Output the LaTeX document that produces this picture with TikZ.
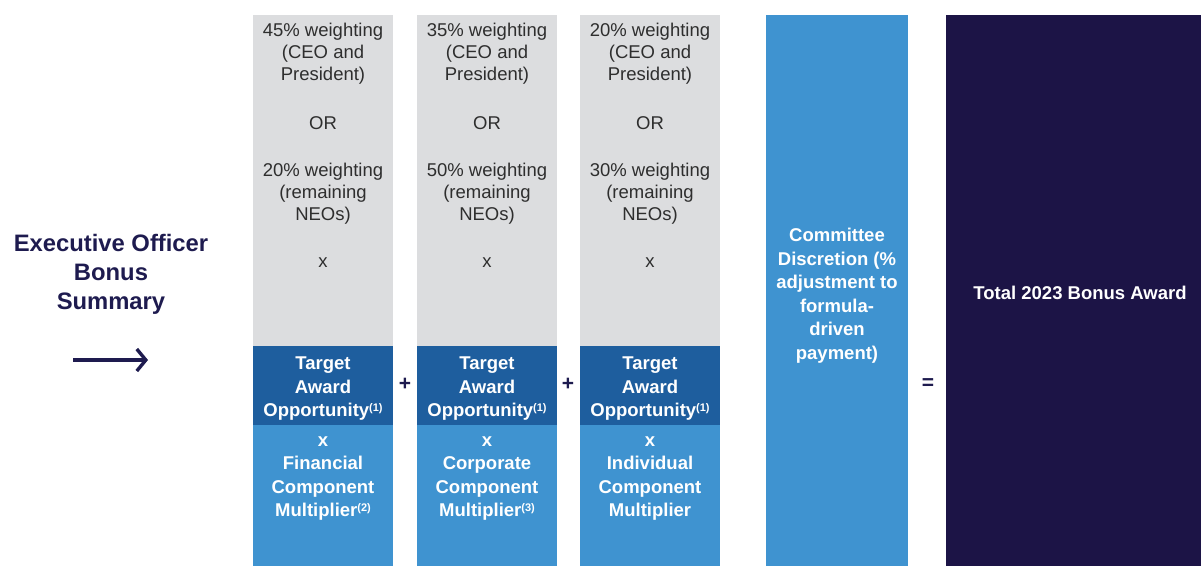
\documentclass[tikz,border=0pt]{standalone}
\usepackage{fontspec}
\setmainfont{Liberation Sans}
\usetikzlibrary{arrows.meta}
\definecolor{graybg}{HTML}{DCDDDF}
\definecolor{darkblue}{HTML}{1E5E9E}
\definecolor{lightblue}{HTML}{3F93D0}
\definecolor{navy}{HTML}{1C1446}
\definecolor{graytxt}{HTML}{2E2E2E}
\definecolor{titlenavy}{HTML}{1E1B4F}
\newcommand{\supmark}[1]{\raisebox{0.55ex}{\fontsize{11}{11}\selectfont(#1)}}
\begin{document}
\begin{tikzpicture}[x=1pt,y=-1pt,
  panel/.style={draw=none,inner sep=0pt,outer sep=0pt,anchor=north west},
  graytext/.style={align=center,text=graytxt,inner sep=0pt,font=\fontsize{18.5}{22}\selectfont},
  whitetext/.style={align=center,text=white,inner sep=0pt,font=\bfseries\fontsize{18.5}{23.5}\selectfont},
  optext/.style={text=titlenavy,inner sep=0pt,font=\bfseries\fontsize{21}{21}\selectfont}]
\useasboundingbox (0,0) rectangle (1201,566);
% panels
\foreach \n/\x in {1/253,2/417,3/580}{
  \node[panel,fill=graybg,minimum width=140pt,minimum height=331pt] (g\n) at (\x,15) {};
  \node[panel,fill=darkblue,minimum width=140pt,minimum height=79pt] (d\n) at (\x,346) {};
  \node[panel,fill=lightblue,minimum width=140pt,minimum height=141pt] (l\n) at (\x,425) {};
}
\node[panel,fill=lightblue,minimum width=142pt,minimum height=551pt] (cd) at (766,15) {};
\node[panel,fill=navy,minimum width=255pt,minimum height=551pt] (tot) at (946,15) {};
% gray texts
\node[graytext] (g1a) at (323,54) {45\% weighting\\(CEO and\\President)};
\node[graytext] (g2a) at (487,54) {35\% weighting\\(CEO and\\President)};
\node[graytext] (g3a) at (650,54) {20\% weighting\\(CEO and\\President)};
\foreach \n/\x in {1/323,2/487,3/650}{
  \node[graytext] (g\n o) at (\x,123) {OR};
  \node[graytext] (g\n x) at (\x,263) {x};
}
\node[graytext] (g1b) at (323,194) {20\% weighting\\(remaining\\NEOs)};
\node[graytext] (g2b) at (487,194) {50\% weighting\\(remaining\\NEOs)};
\node[graytext] (g3b) at (650,194) {30\% weighting\\(remaining\\NEOs)};
% dark blue texts
\foreach \n/\x in {1/323,2/487,3/650}{
  \node[whitetext] (d\n t) at (\x,389) {Target\\Award\\Opportunity\supmark{1}};
}
\node[whitetext] (l1t) at (323,478.5) {x\\Financial\\Component\\Multiplier\supmark{2}};
\node[whitetext] (l2t) at (487,478.5) {x\\Corporate\\Component\\Multiplier\supmark{3}};
\node[whitetext] (l3t) at (650,478.5) {x\\Individual\\Component\\Multiplier};
% committee and total
\node[whitetext] (cdt) at (837,295.5) {Committee\\Discretion (\%\\adjustment to\\formula-\\driven\\payment)};
\node[whitetext] (tott) at (1080,293) {Total 2023 Bonus Award};
% operators
\node[optext] (p1) at (405,384) {+};
\node[optext] (p2) at (568,384) {+};
\node[optext] (eq) at (928,384) {=};
% title and arrow
\node[align=center,text=titlenavy,inner sep=0pt,font=\bfseries\fontsize{23.8}{29}\selectfont] (title) at (111,274) {Executive Officer\\Bonus\\Summary};
\coordinate (as) at (73,360);
\coordinate (ae) at (148,360);
\draw[titlenavy,line width=3.5pt,-{Straight Barb[length=9pt,width=22pt,line width=3.4pt]}] (as) -- (ae);
\end{tikzpicture}
\end{document}
